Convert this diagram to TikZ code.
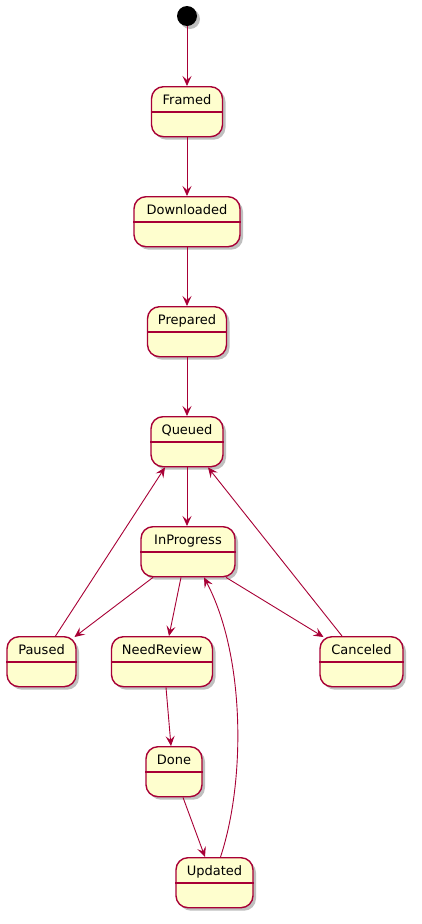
\documentclass[tikz,border=0pt]{standalone}
\usepackage{fontspec}
\setmainfont{DejaVu Sans}
\usepackage{xcolor}
\usetikzlibrary{calc,shadows,arrows.meta}
\definecolor{stfill}{HTML}{FEFECE}
\definecolor{stroke}{HTML}{A80036}
\tikzset{
  st/.style={draw=stroke, fill=stfill, line width=1.4pt, rounded corners=12pt,
    minimum height=50pt, anchor=north, inner sep=0pt,
    drop shadow={shadow xshift=3pt, shadow yshift=-3pt, fill=black, opacity=0.25}},
  stline/.style={draw=stroke, line width=1.2pt},
  sttext/.style={font=\fontsize{13pt}{15pt}\selectfont, text=black, inner sep=0pt},
  initdot/.style={circle, fill=black, minimum size=20pt, inner sep=0pt,
    drop shadow={shadow xshift=3pt, shadow yshift=-3pt, fill=black, opacity=0.25}},
  arr/.style={draw=stroke, line width=0.9pt, -{Stealth[length=10pt,width=9pt,inset=4pt]}}
}
% name, centre x, top y, width, label
\newcommand{\stbox}[5]{%
  \node[st, minimum width=#4pt] (#1) at (#2,#3) {};
  \draw[stline] ([yshift=-26pt]#1.north west) -- ([yshift=-26pt]#1.north east);
  \node[sttext, anchor=base] (#1-t) at ([yshift=-18.5pt]#1.north) {#5};
}

\begin{document}
\begin{tikzpicture}[x=1pt,y=-1pt]
\useasboundingbox[fill=white] (0,0) rectangle (421,924);

% states
\node[initdot] (init) at (187,16) {};
\stbox{fr}{187}{86}{71}{Framed}
\stbox{dl}{187}{196}{106}{Downloaded}
\stbox{pr}{187}{306}{79}{Prepared}
\stbox{q}{187}{416}{72}{Queued}
\stbox{ip}{188}{526}{94}{InProgress}
\stbox{pau}{41.5}{636}{69}{Paused}
\stbox{nr}{162}{636}{101}{NeedReview}
\stbox{can}{361.5}{636}{83}{Canceled}
\stbox{dn}{174}{746}{56}{Done}
\stbox{up}{214.5}{857}{77}{Updated}

% main chain
\draw[arr] (init) -- (fr.north);
\draw[arr] (fr.south) -- (dl.north);
\draw[arr] (dl.south) -- (pr.north);
\draw[arr] (pr.south) -- (q.north);
\draw[arr] (q.south) -- (q.south |- ip.north);

% out of InProgress
\draw[arr] ([xshift=-35pt]ip.south) -- ([xshift=33pt,yshift=-1pt]pau.north);
\draw[arr] ([xshift=-7pt]ip.south) -- ([xshift=7pt]nr.north);
\draw[arr] ([xshift=38pt]ip.south) -- ([xshift=-38pt,yshift=-1pt]can.north);

% back to Queued
\draw[arr] ([xshift=14pt]pau.north) -- ([xshift=-22pt]q.south);
\draw[arr] ([xshift=-19.5pt]can.north) -- ([xshift=21pt]q.south);

% review path
\draw[arr] ([xshift=4pt]nr.south) -- ([xshift=-3pt]dn.north);
\draw[arr] ([xshift=9pt]dn.south) -- ([xshift=-9.5pt]up.north);
\draw[arr] ([xshift=6pt]up.north) .. controls (246,780) and (245,655) .. ([xshift=16pt]ip.south);
\end{tikzpicture}
\end{document}
